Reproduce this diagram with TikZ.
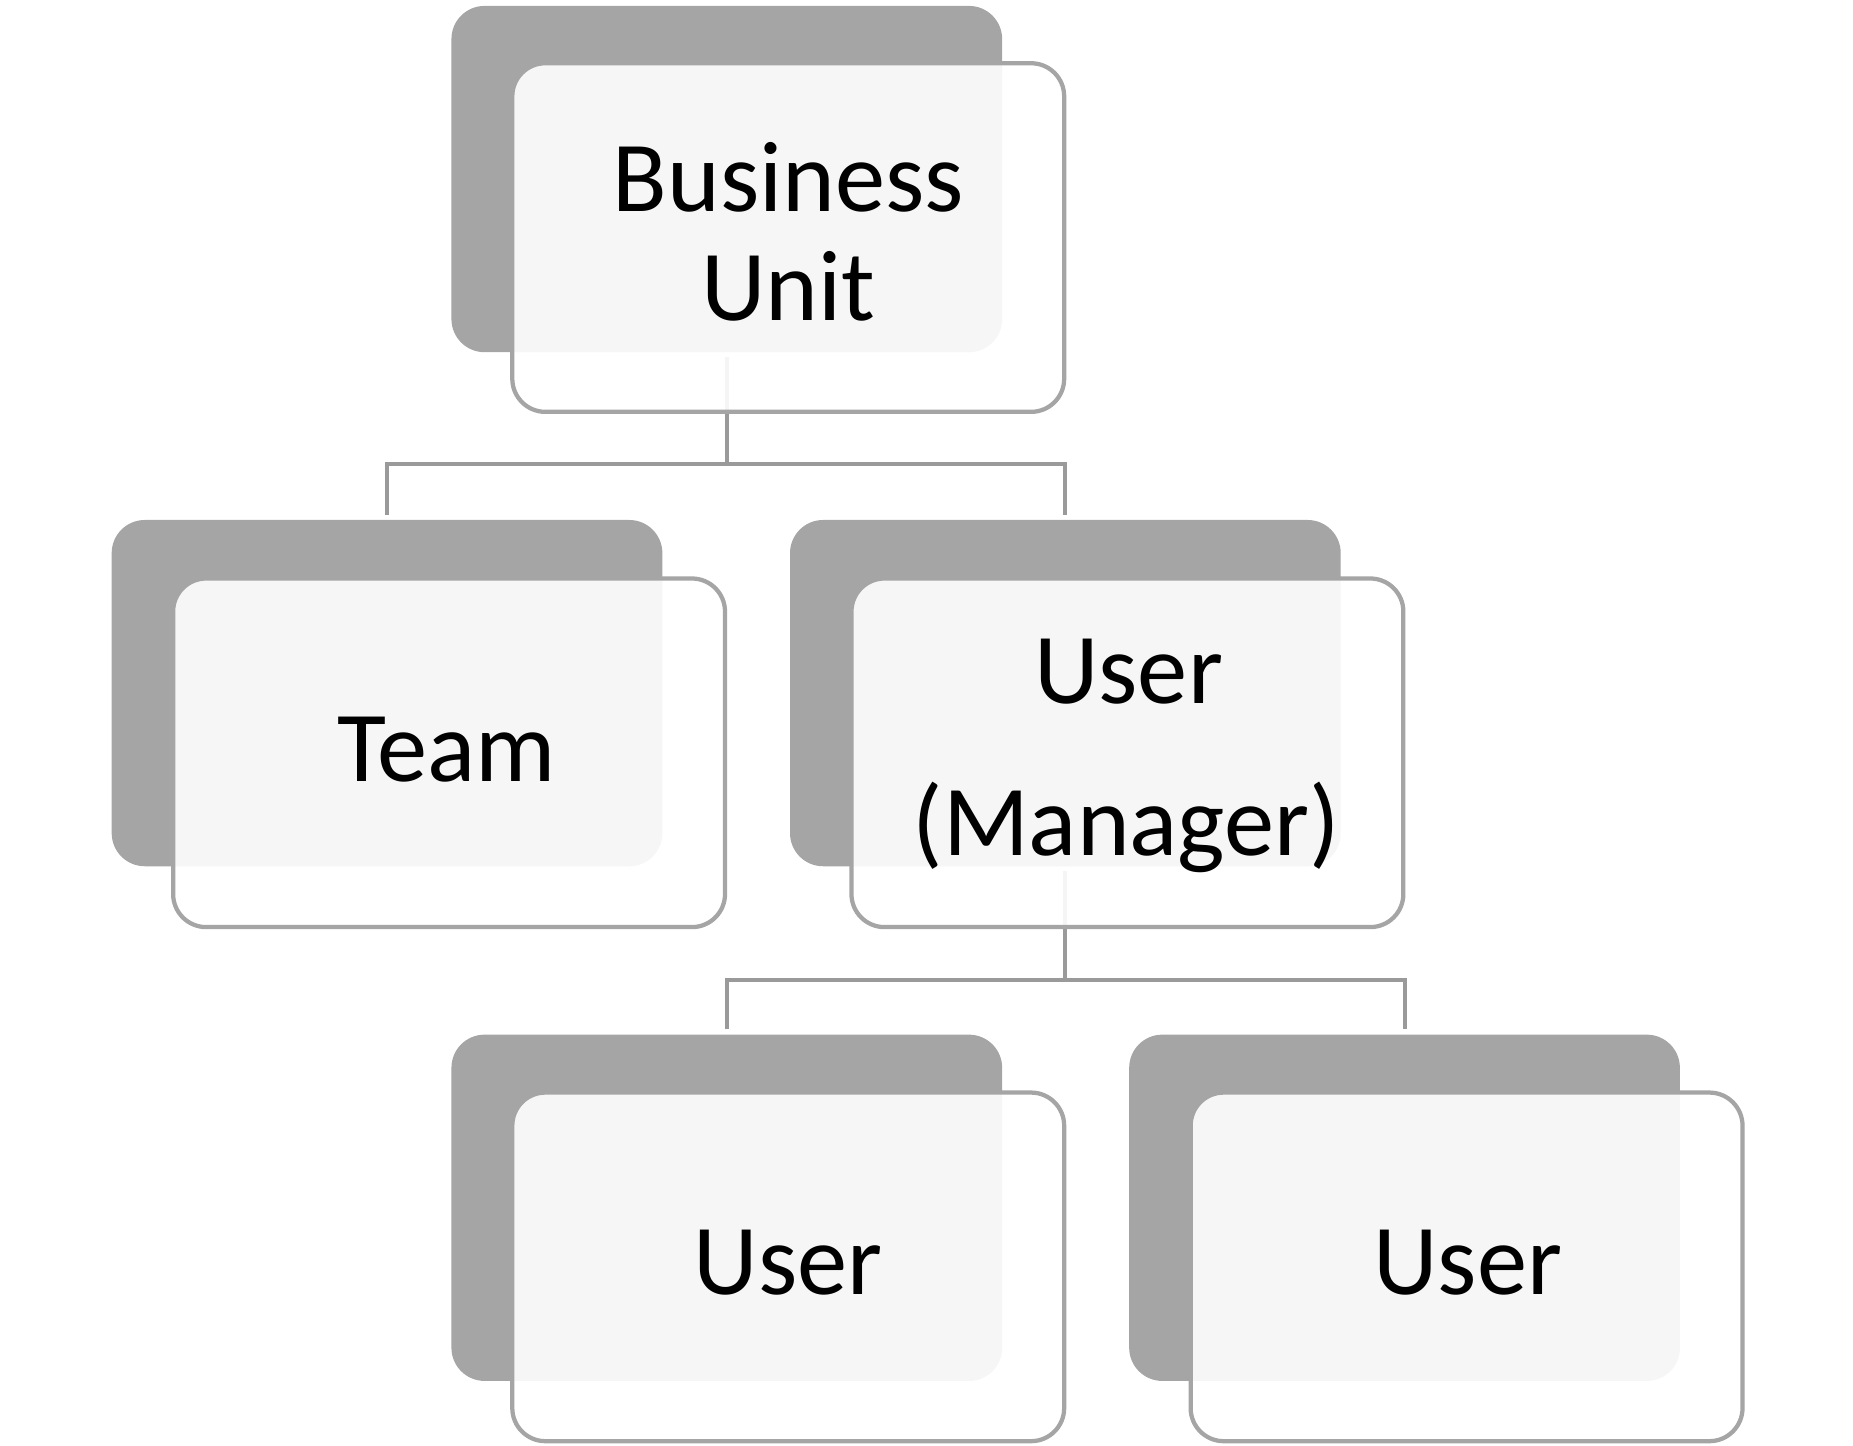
\documentclass[tikz,border=0pt]{standalone}
\usepackage{fontspec}
\setmainfont{Carlito}
\definecolor{shade}{HTML}{A5A5A5}
\definecolor{connc}{HTML}{9A9A9A}
\begin{document}
\begin{tikzpicture}[x=0.5pt,y=-0.5pt,
  backbox/.style={rectangle, rounded corners=14pt, fill=shade, minimum width=233pt, minimum height=146.5pt, inner sep=0pt},
  frontbox/.style={rectangle, rounded corners=14pt, draw=shade, line width=1.8pt, fill=white, fill opacity=0.9, minimum width=233.5pt, minimum height=147.5pt, inner sep=0pt},
  txt/.style={anchor=base, font=\fontsize{42.5}{46}\selectfont, text=black, inner sep=0pt},
  conn/.style={draw=connc, line width=1.7pt}]
\useasboundingbox (0,0) rectangle (1568,1223);
% back (shadow) boxes
\node[backbox] (bu)  at (615,151.5) {};
\node[backbox] (team) at (327.5,586.5) {};
\node[backbox] (mgr) at (901.5,586.5) {};
\node[backbox] (u1)  at (615,1022) {};
\node[backbox] (u2)  at (1188.5,1022) {};
% connectors
\coordinate (j1) at (615,393);
\coordinate (j2) at (901.5,829);
\draw[conn, shorten <=2pt] (bu.south) -- (j1 -| bu.south);
\draw[conn, shorten <=2pt, shorten >=2pt] (team.north) |- (j1) -| (mgr.north);
\draw[conn, shorten <=2pt] (mgr.south) -- (j2);
\draw[conn, shorten <=2pt, shorten >=2pt] (u1.north) |- (j2) -| (u2.north);
% front boxes
\node[frontbox] (buf)  at (667,201) {};
\node[frontbox] (teamf) at (380,637) {};
\node[frontbox] (mgrf) at (954,637) {};
\node[frontbox] (u1f)  at (667,1072) {};
\node[frontbox] (u2f)  at (1241,1072) {};
% texts
\node[txt] (bu-a) at (667,179) {Business};
\node[txt] (bu-b) at (667,271) {Unit};
\node[txt] (team-a) at (378,661) {Team};
\node[txt] (mgr-a) at (955,595) {User};
\node[txt] (mgr-b) at (953,724) {(Manager)};
\node[txt] (u1-a) at (667,1095) {User};
\node[txt] (u2-a) at (1242,1095) {User};
\end{tikzpicture}
\end{document}
